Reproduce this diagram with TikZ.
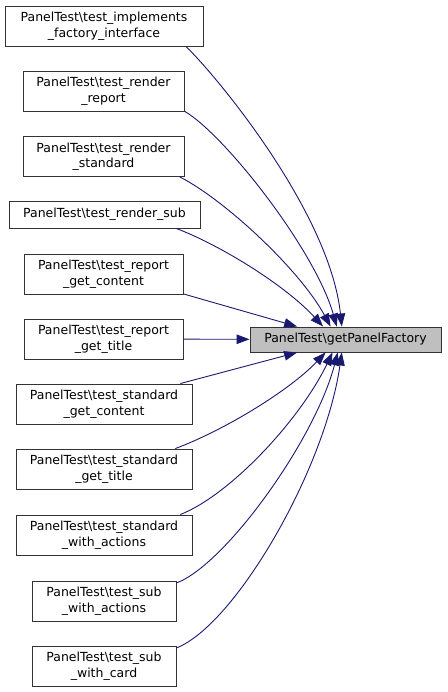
\documentclass[tikz,border=0pt]{standalone}
\usepackage{fontspec}
\setmainfont{DejaVu Sans}
\usetikzlibrary{arrows.meta}
\definecolor{edgeblue}{HTML}{191970}
\definecolor{focusgray}{HTML}{BFBFBF}
\newcommand{\bs}{\textbackslash}

\begin{document}
\begin{tikzpicture}[x=1pt, y=-1pt,
    every node/.style={rectangle, draw=black!80, line width=0.9pt, inner sep=0pt, align=center, font=\fontsize{12.5}{15.5}\selectfont},
    caller/.style={minimum height=40pt},
    focus/.style={fill=focusgray, minimum width=191pt, minimum height=25pt},
    call/.style={draw=edgeblue, line width=0.9pt, -{Triangle[length=13pt,width=9.5pt]}}]
    \useasboundingbox (0,0) rectangle (447,692);

    % Nodes
    \node (focus) [focus] at (345.5,339.5) {PanelTest\bs getPanelFactory};
    \node (implements) [caller, minimum width=198pt] at (104,26) {PanelTest\bs test\_implements\\\_factory\_interface};
    \node (renderreport) [caller, minimum width=161pt] at (103.5,91) {PanelTest\bs test\_render\\\_report};
    \node (renderstandard) [caller, minimum width=161pt] at (103.5,156.5) {PanelTest\bs test\_render\\\_standard};
    \node (rendersub) [minimum width=191pt, minimum height=27pt] at (104.5,214.5) {PanelTest\bs test\_render\_sub};
    \node (reportcontent) [caller, minimum width=159pt] at (103.5,274) {PanelTest\bs test\_report\\\_get\_content};
    \node (reporttitle) [caller, minimum width=159pt] at (103.5,339) {PanelTest\bs test\_report\\\_get\_title};
    \node (standardcontent) [caller, minimum width=176pt] at (104,404) {PanelTest\bs test\_standard\\\_get\_content};
    \node (standardtitle) [caller, minimum width=176pt] at (104,469) {PanelTest\bs test\_standard\\\_get\_title};
    \node (standardactions) [caller, minimum width=176pt] at (104,535) {PanelTest\bs test\_standard\\\_with\_actions};
    \node (subactions) [caller, minimum width=144pt] at (104,601) {PanelTest\bs test\_sub\\\_with\_actions};
    \node (subcard) [caller, minimum width=144pt] at (104,666) {PanelTest\bs test\_sub\\\_with\_card};

    % Arrows
    \draw[call] (implements.-14) .. controls (222,82) and (330,215) .. (focus.106);
    \draw[call] (renderreport.-14) .. controls (225,135) and (315,250) .. (focus.124);
    \draw[call] (renderstandard.-15) .. controls (225,200) and (300,270) .. (focus.139);
    \draw[call] (rendersub.-11) .. controls (220,245) and (285,285) .. (focus.150);
    \draw[call] (reportcontent.-14) -- (focus.165);
    \draw[call] (reporttitle) -- (focus);
    \draw[call] (standardcontent.15) -- (focus.195);
    \draw[call] (standardtitle.16) .. controls (225,430) and (290,390) .. (focus.213);
    \draw[call] (standardactions.15) .. controls (230,495) and (300,420) .. (focus.225);
    \draw[call] (subactions.14) .. controls (225,565) and (315,440) .. (focus.239);
    \draw[call] (subcard.14) .. controls (235,625) and (325,470) .. (focus.254);
\end{tikzpicture}
\end{document}
